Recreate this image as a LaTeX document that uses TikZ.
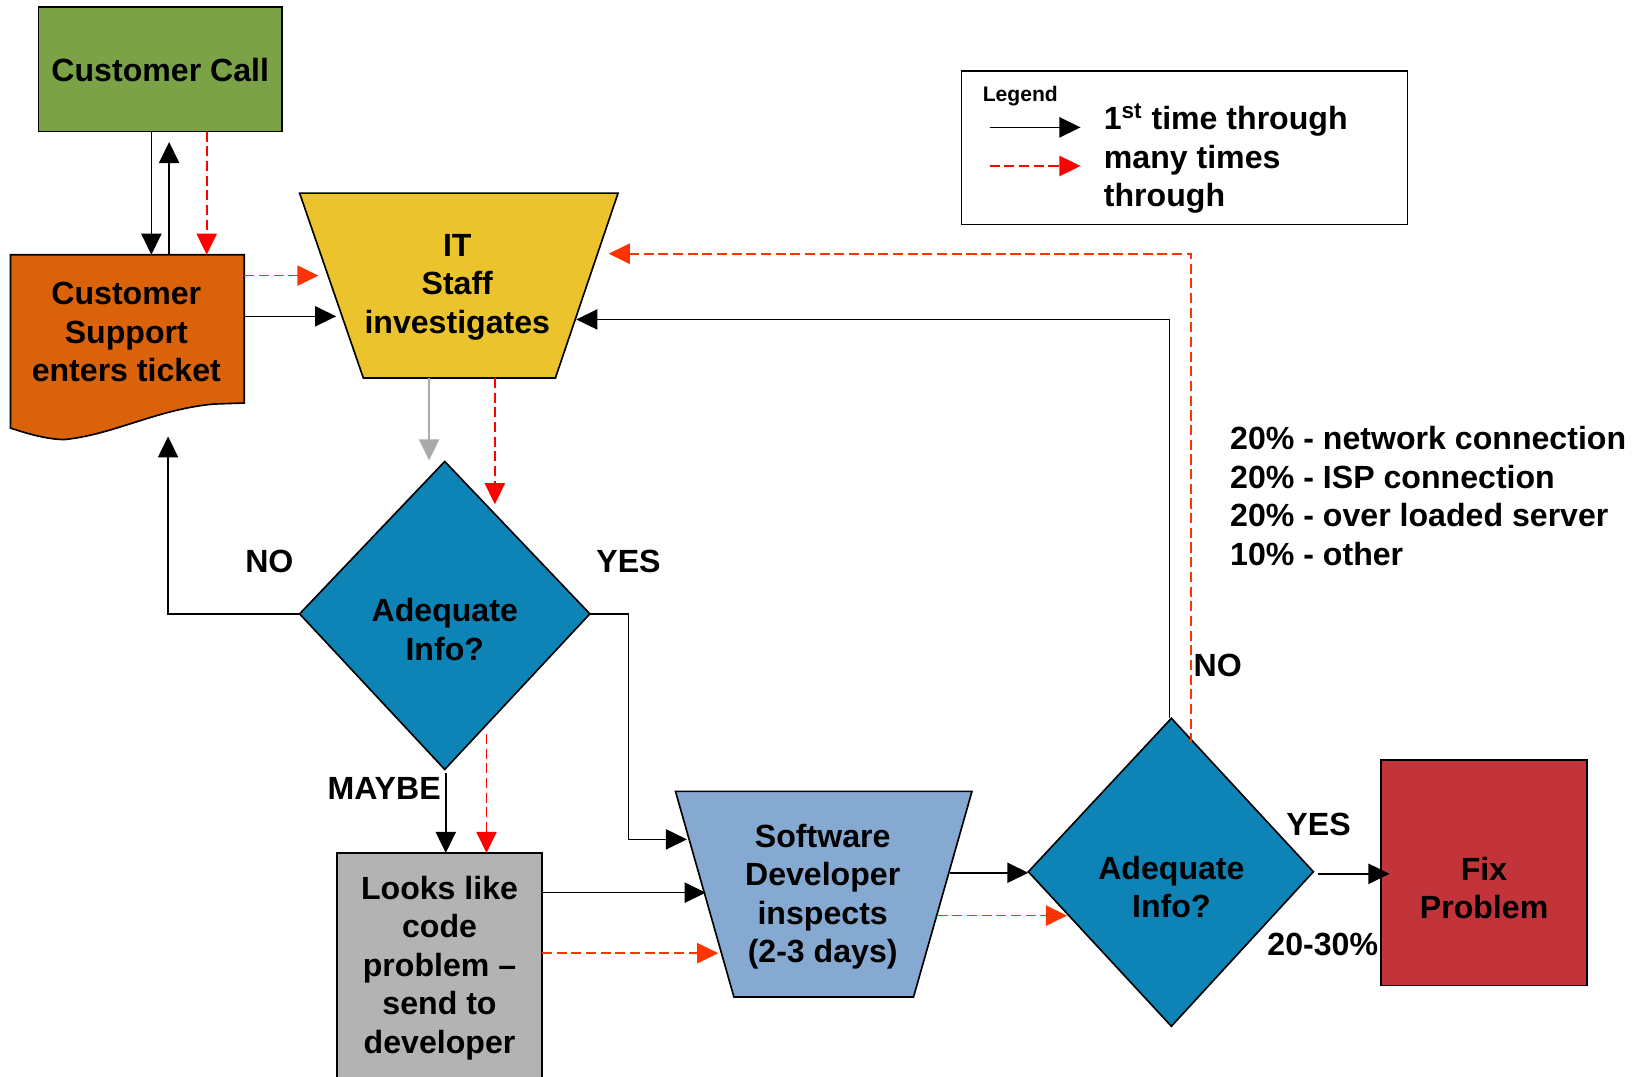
\documentclass[tikz,border=0pt]{standalone}
\usepackage{fontspec}
\setmainfont{Liberation Sans}
\usetikzlibrary{arrows.meta}
\definecolor{callgreen}{HTML}{7BA246}
\definecolor{ticketorange}{HTML}{DA620B}
\definecolor{ityellow}{HTML}{EBC32C}
\definecolor{decblue}{HTML}{0D84B5}
\definecolor{devblue}{HTML}{85A9D0}
\definecolor{codegray}{HTML}{B3B3B3}
\definecolor{fixred}{HTML}{C3343A}
\definecolor{flowgray}{HTML}{AAAAAA}
\definecolor{loopred}{HTML}{FF0000}
\definecolor{looporange}{HTML}{FF3300}
\begin{document}
\begin{tikzpicture}[x=0.02cm,y=-0.02cm,
  shapeline/.style={draw=black, line width=0.9pt, line join=miter},
  lbl/.style={font=\fontsize{17.5}{21}\selectfont\bfseries, align=center, inner sep=0pt},
  tag/.style={font=\fontsize{17.5}{21}\selectfont\bfseries, inner sep=0pt},
  firstpass/.style={draw=black, line width=0.85pt, -{Triangle[length=11.5pt,width=11pt]}},
  greypass/.style={color=flowgray, line width=0.85pt, -{Triangle[length=11.5pt,width=11pt]}},
  repeatpass/.style={color=#1, line width=0.95pt, dash pattern=on 5.5pt off 2.5pt, -{Triangle[length=11.5pt,width=11pt]}},
]
\useasboundingbox (0,0) rectangle (1568,1031);

% ---------- process shapes ----------
% customer call
\draw[shapeline, fill=callgreen] (37,7) rectangle (270,126);
\node[lbl] (call) at (153.5,67) {Customer Call};

% ticket (document shape with wavy bottom)
\draw[shapeline, fill=ticketorange] (10,244) -- (234,244) -- (234,386) -- (205,387)
  .. controls (150,392) and (110,416) .. (62,421)
  .. controls (45,421) and (25,415) .. (10,410) -- cycle;
\node[lbl] (ticket) at (121,318) {Customer\\Support\\enters ticket};

% IT staff
\draw[shapeline, fill=ityellow] (287,185) -- (592,185) -- (532,362) -- (348,362) -- cycle;
\node[lbl] (itstaff) at (438,275) {IT\\Staff\\investigates};

% first decision
\draw[shapeline, fill=decblue] (426,442) -- (565,588) -- (426,737) -- (287,588) -- cycle;
\node[lbl] (dec1) at (426,603) {Adequate\\Info?};

% code problem
\draw[shapeline, fill=codegray] (323,817) rectangle (519,1045);
\node[lbl] (code) at (421,927) {Looks like\\code\\problem --\\send to\\developer};

% software developer
\draw[shapeline, fill=devblue] (647,758) -- (931,758) -- (875,955) -- (703,955) -- cycle;
\node[lbl] (dev) at (788,859) {Software\\Developer\\inspects\\(2-3 days)};

% second decision
\draw[shapeline, fill=decblue] (1122,688) -- (1258,835) -- (1122,983) -- (985,835) -- cycle;
\node[lbl] (dec2) at (1122,849.5) {Adequate\\Info?};

% fix problem
\draw[shapeline, fill=fixred] (1323,728) rectangle (1520,944);
\node[lbl] (fix) at (1421.5,850.5) {Fix\\Problem};

% ---------- connector end points ----------
\coordinate (callA) at (145,126);   \coordinate (ticketA) at (145,244);
\coordinate (ticketB) at (162,244); \coordinate (callB) at (162,136);
\coordinate (callC) at (198,126);   \coordinate (ticketC) at (198,244);
\coordinate (ticketD) at (234,264); \coordinate (itD) at (305,264);
\coordinate (ticketE) at (234,303); \coordinate (itE) at (322,303);
\coordinate (itF) at (411,362);     \coordinate (dec1F) at (411,441);
\coordinate (itG) at (474,362);     \coordinate (dec1G) at (474,483);
\coordinate (dec1W) at (287,588);   \coordinate (ticketH) at (161,418);
\coordinate (dec1E) at (565,588);   \coordinate (devI) at (658,804);
\coordinate (dec1S) at (427,740);   \coordinate (codeJ) at (427,817);
\coordinate (dec1K) at (466,703);   \coordinate (codeK) at (466,817);
\coordinate (codeL) at (519,855);   \coordinate (devL) at (676,855);
\coordinate (codeM) at (519,913);   \coordinate (devM) at (688,913);
\coordinate (devN) at (910,836);    \coordinate (dec2N) at (985,836);
\coordinate (devO) at (898,877);    \coordinate (dec2O) at (1022,877);
\coordinate (dec2P) at (1120,688);  \coordinate (itP) at (552,306);
\coordinate (dec2Q) at (1141,712);  \coordinate (itQ) at (583,243);
\coordinate (dec2R) at (1262,837);  \coordinate (fixR) at (1331,837);

% ---------- connectors ----------
\draw[firstpass] (callA) -- (ticketA);
\draw[firstpass] (ticketB) -- (callB);
\draw[repeatpass=loopred] (callC) -- (ticketC);
\draw[repeatpass=looporange] (ticketD) -- (itD);
\draw[firstpass] (ticketE) -- (itE);
\draw[greypass] (itF) -- (dec1F);
\draw[repeatpass=loopred] (itG) -- (dec1G);
\draw[firstpass] (dec1W) -| (ticketH);
\draw[firstpass] (dec1E) -- (602,588) |- (devI);
\draw[firstpass] (dec1S) -- (codeJ);
\draw[repeatpass=loopred] (dec1K) -- (codeK);
\draw[firstpass] (codeL) -- (devL);
\draw[repeatpass=looporange] (codeM) -- (devM);
\draw[firstpass] (devN) -- (dec2N);
\draw[repeatpass=looporange] (devO) -- (dec2O);
\draw[firstpass] (dec2P) |- (itP);
\draw[repeatpass=looporange] (dec2Q) |- (itQ);
\draw[firstpass] (dec2R) -- (fixR);

% ---------- branch labels ----------
\node[tag] (noA) at (258,538) {NO};
\node[tag] (yesA) at (602,538) {YES};
\node[tag] (maybe) at (368,755) {MAYBE};
\node[tag, anchor=west] (noB) at (1143,637) {NO};
\node[tag] (yesB) at (1263,790) {YES};
\node[tag] (share) at (1267,905) {20-30\%};

% ---------- causes ----------
\node[tag, align=left, anchor=west] (causes) at (1178,475)
  {20\% - network connection\\20\% - ISP connection\\20\% - over loaded server\\10\% - other};

% ---------- legend ----------
\draw[line width=0.9pt] (921,68) rectangle (1348,215);
\node[font=\fontsize{11.5}{13}\selectfont\bfseries, anchor=west, inner sep=0pt] (legtitle) at (941,92) {Legend};
\coordinate (legA1) at (948,122); \coordinate (legA2) at (1035,122);
\coordinate (legB1) at (948,159); \coordinate (legB2) at (1035,159);
\draw[firstpass] (legA1) -- (legA2);
\draw[repeatpass=loopred] (legB1) -- (legB2);
\node[tag, align=left, anchor=west] (legtext) at (1057,152)
  {1\textsuperscript{st} time through\\many times\\through};
\end{tikzpicture}
\end{document}
